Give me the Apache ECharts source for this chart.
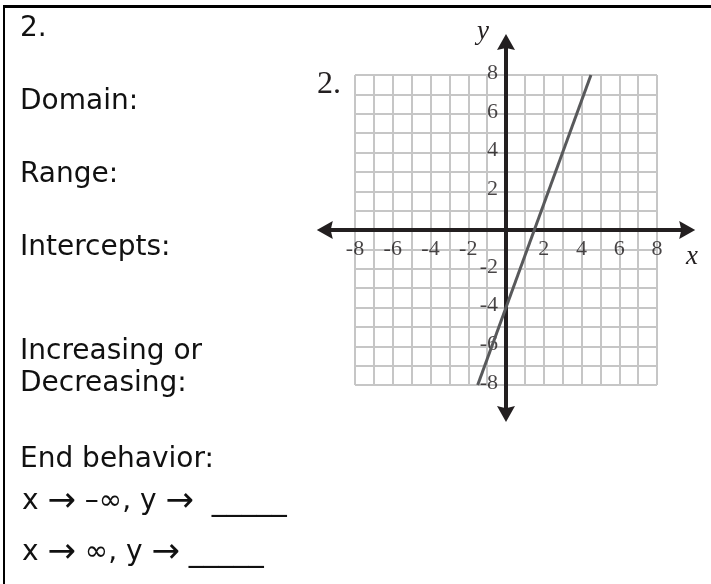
<!DOCTYPE html>
<html>
<head>
    <meta charset="utf-8">
    <title>2. Domain / Range</title>
    <script src="https://cdn.jsdelivr.net/npm/echarts@6/dist/echarts.min.js"></script>
    <style type="text/css">
        html, body { margin: 0; padding: 0; background: #fff; }
        #chart1 { width: 711px; height: 584px; }
    </style>
</head>
<body>
<div id="chart1"></div>
<script type="text/javascript">
    // data
    var xTicks = [-8, -6, -4, -2, 2, 4, 6, 8];
    var yTicks = [-8, -6, -4, -2, 2, 4, 6, 8];
    var lineX = [-1.5, 4.5];
    var lineY = [-8, 8];
    // how far the black axes run past the grid (arrow centres)
    var axisReachX = [-9.6, 9.6];
    var axisReachY = [-9.5, 9.7];

    var leftLines = ['2.', 'Domain:', 'Range:', 'Intercepts:', 'Increasing or', 'Decreasing:', 'End behavior:'];
    var endLines = [
        '{t|x }{a|\u2192}{t| \u2013\u221e, y }{a|\u2192}{t|  }{u|_____}',
        '{t|x }{a|\u2192}{t| \u221e, y }{a|\u2192}{t| }{u|_____}'
    ];

    var ink = '#231f20';
    var textFont = '28px "DejaVu Sans"';
    var leftY = [29, 102, 175, 248, 352, 384, 460];
    var endY = [502, 553];

    var myChart1 = echarts.init(document.getElementById('chart1'));

    var graphics = [
        // frame: top and left border
        { type: 'rect', shape: { x: 3, y: 5, width: 708, height: 3 }, style: { fill: '#000' } },
        { type: 'rect', shape: { x: 3, y: 5, width: 2, height: 579 }, style: { fill: '#000' } },
        { type: 'text', x: 317, y: 85, style: { text: '2.', font: '32px "Liberation Serif"', fill: ink, verticalAlign: 'middle' } },
        { type: 'text', x: 686, y: 257, style: { text: 'x', font: 'italic 27px "Liberation Serif"', fill: ink, verticalAlign: 'middle' } },
        { type: 'text', x: 477, y: 32, style: { text: 'y', font: 'italic 27px "Liberation Serif"', fill: ink, verticalAlign: 'middle' } }
    ];
    leftLines.forEach(function (t, i) {
        graphics.push({ type: 'text', x: 20, y: leftY[i], style: { text: t, font: textFont, fill: '#111', verticalAlign: 'middle' } });
    });
    endLines.forEach(function (t, i) {
        graphics.push({
            type: 'text', x: 22, y: endY[i],
            style: {
                text: t, verticalAlign: 'middle', fill: '#111',
                rich: {
                    t: { fontFamily: 'DejaVu Sans', fontSize: 28, lineHeight: 32, fill: '#111' },
                    a: { fontFamily: 'DejaVu Sans', fontSize: 34, lineHeight: 32, fill: '#111' },
                    u: { fontFamily: 'DejaVu Sans', fontSize: 30, lineHeight: 32, fill: '#111' }
                }
            }
        });
    });

    var gridLine = { show: true, lineStyle: { color: '#c6c6c6', width: 2 } };
    var tickFont = { color: '#1a1718', fontFamily: 'Liberation Serif', fontSize: 22 };
    var arrowPath = 'path://M9,0 L18,15 L9,13 L0,15 Z';

    myChart1.setOption({
        animation: false,
        grid: { left: 355, right: 54, top: 75, bottom: 199, containLabel: false },
        xAxis: {
            type: 'value', min: -8, max: 8, interval: 1,
            axisLine: { show: false },
            axisTick: { show: false },
            axisLabel: { show: false },
            splitLine: gridLine
        },
        yAxis: {
            type: 'value', min: -8, max: 8, interval: 1,
            axisLine: { show: false },
            axisTick: { show: false },
            axisLabel: { show: false },
            splitLine: gridLine
        },
        graphic: graphics,
        series: [
            {
                // the two black axes
                type: 'lines', coordinateSystem: 'cartesian2d', clip: false, silent: true,
                lineStyle: { color: ink, width: 4, opacity: 1 },
                data: [
                    { coords: [[axisReachX[0], 0], [axisReachX[1], 0]] },
                    { coords: [[0, axisReachY[0]], [0, axisReachY[1]]] }
                ]
            },
            {
                type: 'scatter', clip: false, silent: true,
                symbol: arrowPath, symbolSize: [18, 16],
                itemStyle: { color: ink, opacity: 1 },
                data: [
                    { value: [axisReachX[0], 0], symbolRotate: 90 },
                    { value: [axisReachX[1], 0], symbolRotate: -90 },
                    { value: [0, axisReachY[0]], symbolRotate: 180 },
                    { value: [0, axisReachY[1]], symbolRotate: 0 }
                ]
            },
            {
                // x tick labels under the x axis
                type: 'scatter', silent: true, symbolSize: 0,
                data: xTicks.map(function (t) { return [t, 0]; }),
                label: Object.assign({
                    show: true, position: 'bottom', distance: 8,
                    formatter: function (p) { return String(p.value[0]); }
                }, tickFont)
            },
            {
                // y tick labels left of the y axis
                type: 'scatter', silent: true, symbolSize: 0,
                data: yTicks.map(function (t) { return [0, t]; }),
                label: Object.assign({
                    show: true, position: 'left', distance: 8, offset: [0, -2],
                    formatter: function (p) { return String(p.value[1]); }
                }, tickFont)
            },
            {
                type: 'line', clip: false, symbol: 'none', silent: true,
                data: lineX.map(function (x, i) { return [x, lineY[i]]; }),
                lineStyle: { color: '#58595b', width: 3 }
            }
        ]
    });
</script>
</body>
</html>
